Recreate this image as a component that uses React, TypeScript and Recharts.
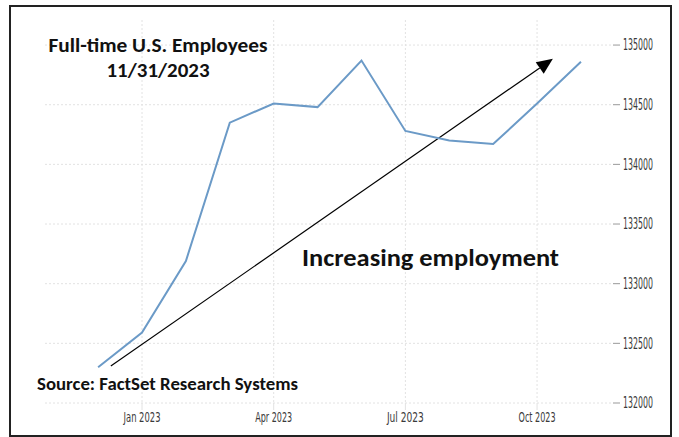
import React from 'react';
import { LineChart, Line, XAxis, YAxis, CartesianGrid, ReferenceLine } from 'recharts';

const months = ['Dec 2022', 'Jan 2023', 'Feb 2023', 'Mar 2023', 'Apr 2023', 'May 2023', 'Jun 2023', 'Jul 2023', 'Aug 2023', 'Sep 2023', 'Oct 2023', 'Nov 2023'];
const employees = [132300, 132590, 133190, 134350, 134510, 134480, 134870, 134280, 134200, 134170, 134510, 134860];
const xTicks = [1, 4, 7, 10];
const yTicks = [132000, 132500, 133000, 133500, 134000, 134500, 135000];
const arrowStart = { x: 0.29, y: 132310 };
const arrowEnd = { x: 10.36, y: 134885 };

const titleLines = ['Full-time U.S. Employees', '11/31/2023'];
const annotation = 'Increasing employment';
const sourceText = 'Source: FactSet Research Systems';

const data = months.map((m, i) => ({ i, month: m, value: employees[i] }));

const boldFont = "Carlito, Lato, 'Open Sans', sans-serif";
const tickFont = "'Liberation Sans Narrow', 'DejaVu Sans Condensed', 'Liberation Sans', sans-serif";

const XTick = (props: any) => {
  const { x, y, payload } = props;
  const label = months[payload.value] || '';
  return (
    <text x={x} y={y} dy="0.71em" textAnchor="middle" fontFamily={tickFont} fontSize={14} fill="#3a3a3a"
      textLength={37} lengthAdjust="spacingAndGlyphs">{label}</text>
  );
};

const YTick = (props: any) => {
  const { x, y, payload } = props;
  return (
    <text x={x} y={y} dy="0.36em" textAnchor="start" fontFamily={tickFont} fontSize={15} fill="#3a3a3a"
      textLength={30} lengthAdjust="spacingAndGlyphs">{String(payload.value)}</text>
  );
};

const Arrow = (props: any) => {
  const { x1, y1, x2, y2 } = props;
  if ([x1, y1, x2, y2].some((v) => typeof v !== 'number' || isNaN(v))) return null;
  const dx = x2 - x1;
  const dy = y2 - y1;
  const len = Math.sqrt(dx * dx + dy * dy);
  const ux = dx / len;
  const uy = dy / len;
  const headLen = 16;
  const headW = 7;
  const bx = x2 - ux * headLen;
  const by = y2 - uy * headLen;
  const px = -uy;
  const py = ux;
  return (
    <g>
      <line x1={x1} y1={y1} x2={bx} y2={by} stroke="#000" strokeWidth={1.2} />
      <polygon points={`${x2},${y2} ${bx + px * headW},${by + py * headW} ${bx - px * headW},${by - py * headW}`} fill="#000" />
    </g>
  );
};

export default function App() {
  return (
    <div style={{ position: 'absolute', left: 0, top: 0, width: 679, height: 437, background: '#fff', overflow: 'hidden' }}>
      <LineChart width={679} height={437} data={data} margin={{ top: 20, right: 0, bottom: 10, left: 45 }}>
        <CartesianGrid stroke="#e2e2e2" strokeDasharray="2 2" horizontalValues={yTicks} verticalValues={xTicks} />
        <XAxis dataKey="i" type="number" domain={[-1.21, 11.73]} ticks={xTicks} axisLine={false}
          tickLine={{ stroke: '#e2e2e2' }} tickSize={7} tickMargin={2} height={24} tick={<XTick />} allowDataOverflow />
        <YAxis orientation="right" type="number" domain={[132000, 135210]} ticks={yTicks} axisLine={false}
          tickLine={{ stroke: '#999' }} tickSize={7} tickMargin={3} width={66} tick={<YTick />} allowDataOverflow />
        <ReferenceLine segment={[arrowStart, arrowEnd]} shape={<Arrow />} ifOverflow="visible" />
        <Line type="linear" dataKey="value" stroke="#6b9ac7" strokeWidth={2} dot={false} isAnimationActive={false} />
      </LineChart>
      <svg width={679} height={437} style={{ position: 'absolute', left: 0, top: 0, pointerEvents: 'none' }}>
        <text x={158} y={52} textAnchor="middle" fontFamily={boldFont} fontWeight="bold" fontSize={20} fill="#111"
          textLength={219} lengthAdjust="spacingAndGlyphs">{titleLines[0]}</text>
        <text x={158} y={77} textAnchor="middle" fontFamily={boldFont} fontWeight="bold" fontSize={20} fill="#111"
          textLength={103} lengthAdjust="spacingAndGlyphs">{titleLines[1]}</text>
        <text x={302} y={266} fontFamily={boldFont} fontWeight="bold" fontSize={25} fill="#111"
          textLength={257} lengthAdjust="spacingAndGlyphs">{annotation}</text>
        <text x={37} y={390} fontFamily={boldFont} fontWeight="bold" fontSize={18} fill="#111"
          textLength={261} lengthAdjust="spacingAndGlyphs">{sourceText}</text>
      </svg>
      <div style={{ position: 'absolute', left: 9, top: 5, width: 663, height: 432, border: '2px solid #222', boxSizing: 'border-box' }} />
    </div>
  );
}
